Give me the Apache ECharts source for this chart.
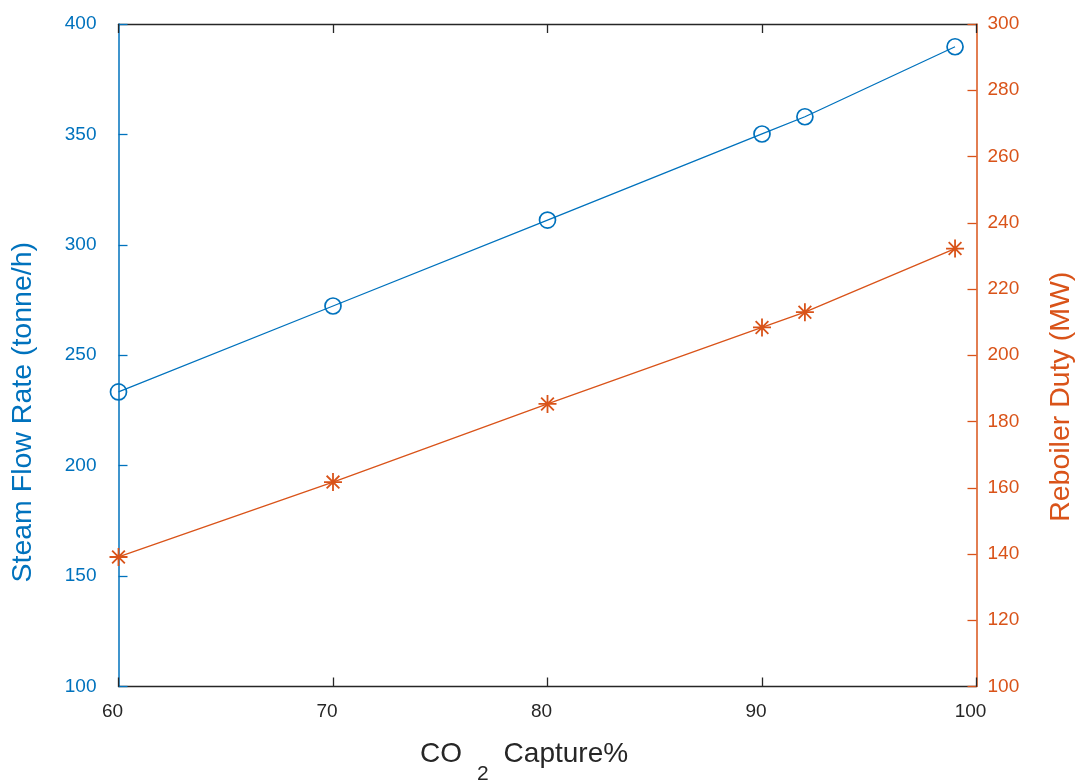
<!DOCTYPE html>
<html>
<head>
<meta charset="utf-8">
<script src="https://cdn.jsdelivr.net/npm/echarts@6/dist/echarts.min.js"></script>
<style>
  html, body { margin: 0; padding: 0; background: #ffffff; }
  #chart { width: 1076px; height: 781px; }
</style>
</head>
<body>
<div id="chart"></div>
<script>
// ---- data ----
const capturePct = [60, 70, 80, 90, 92, 99];
const steamFlow = [233.4, 272.3, 311.2, 350.2, 358.0, 389.7];   // tonne/h (left axis)
const reboilerDuty = [139.1, 161.7, 185.3, 208.4, 213.0, 232.2]; // MW (right axis)
const xTicks = [60, 70, 80, 90, 100];
const leftTicks = [100, 150, 200, 250, 300, 350, 400];
const rightTicks = [100, 120, 140, 160, 180, 200, 220, 240, 260, 280, 300];

const BLUE = '#0072BD';
const ORANGE = '#D95319';
const DARK = '#262626';
const FONT = '"Liberation Sans", Arial, Helvetica, sans-serif';

const chart = echarts.init(document.getElementById('chart'), null, { renderer: 'canvas' });

const asterisk = 'path://M0,-10L0,10M-10,0L10,0M-7.07,-7.07L7.07,7.07M-7.07,7.07L7.07,-7.07';

const option = {
  backgroundColor: '#ffffff',
  animation: false,
  grid: { left: 118.5, right: 99.5, top: 24, bottom: 94.5, containLabel: false, outerBoundsMode: 'none' },
  xAxis: [
    {
      type: 'value',
      position: 'bottom',
      min: xTicks[0], max: xTicks[xTicks.length - 1], interval: 10,
      name: '{a|CO}{b|2}{a|Capture%}',
      nameLocation: 'middle',
      nameGap: 37,
      nameTextStyle: {
        padding: [0, 47, 0, 0],
        rich: {
          a: { fontFamily: FONT, fontSize: 28, color: DARK },
          b: { fontFamily: FONT, fontSize: 21, color: DARK, padding: [40, 15, 0, 15] }
        }
      },
      axisLine: { show: true, lineStyle: { color: DARK, width: 1.3 } },
      axisTick: { show: true, inside: true, length: 9, lineStyle: { color: DARK, width: 1.3 } },
      axisLabel: { show: true, color: DARK, fontFamily: FONT, fontSize: 19, margin: 16, padding: [0, 12, 0, 0] },
      splitLine: { show: false }
    },
    {
      type: 'value',
      position: 'top',
      min: xTicks[0], max: xTicks[xTicks.length - 1], interval: 10,
      axisLine: { show: true, lineStyle: { color: DARK, width: 1.3 } },
      axisTick: { show: true, inside: true, length: 9, lineStyle: { color: DARK, width: 1.3 } },
      axisLabel: { show: false },
      splitLine: { show: false }
    }
  ],
  yAxis: [
    {
      type: 'value',
      position: 'left',
      min: leftTicks[0], max: leftTicks[leftTicks.length - 1], interval: 50,
      name: 'Steam Flow Rate (tonne/h)',
      nameLocation: 'middle',
      nameRotate: 90,
      nameGap: 81,
      nameTextStyle: { color: BLUE, fontFamily: FONT, fontSize: 28.5, padding: [0, 114, 0, 0] },
      axisLine: { show: true, lineStyle: { color: BLUE, width: 1.5 } },
      axisTick: { show: true, inside: true, length: 9, lineStyle: { color: BLUE, width: 1.3 } },
      axisLabel: { show: true, color: BLUE, fontFamily: FONT, fontSize: 19, margin: 22, padding: [0, 0, 8, 0] },
      splitLine: { show: false }
    },
    {
      type: 'value',
      position: 'right',
      min: rightTicks[0], max: rightTicks[rightTicks.length - 1], interval: 20,
      name: 'Reboiler Duty (MW)',
      nameLocation: 'middle',
      nameRotate: 90,
      nameGap: 70,
      nameTextStyle: { color: ORANGE, fontFamily: FONT, fontSize: 28.5, padding: [0, 83, 0, 0] },
      axisLine: { show: true, lineStyle: { color: ORANGE, width: 1.5 } },
      axisTick: { show: true, inside: true, length: 9, lineStyle: { color: ORANGE, width: 1.3 } },
      axisLabel: { show: true, color: ORANGE, fontFamily: FONT, fontSize: 19, margin: 11, padding: [0, 0, 8, 0] },
      splitLine: { show: false }
    }
  ],
  series: [
    {
      name: 'Steam Flow Rate',
      type: 'line',
      xAxisIndex: 0,
      yAxisIndex: 0,
      data: capturePct.map((x, i) => [x, steamFlow[i]]),
      symbol: 'circle',
      symbolSize: 16,
      showAllSymbol: true,
      lineStyle: { color: BLUE, width: 1.3 },
      itemStyle: { color: 'rgba(0,0,0,0)', borderColor: BLUE, borderWidth: 1.7 },
      emphasis: { disabled: true },
      z: 3
    },
    {
      name: 'Reboiler Duty',
      type: 'line',
      xAxisIndex: 0,
      yAxisIndex: 1,
      data: capturePct.map((x, i) => [x, reboilerDuty[i]]),
      symbol: asterisk,
      symbolSize: 18,
      showAllSymbol: true,
      lineStyle: { color: ORANGE, width: 1.3 },
      itemStyle: { color: 'rgba(0,0,0,0)', borderColor: ORANGE, borderWidth: 1.8 },
      emphasis: { disabled: true },
      z: 3
    }
  ]
};

chart.setOption(option);
</script>
</body>
</html>
